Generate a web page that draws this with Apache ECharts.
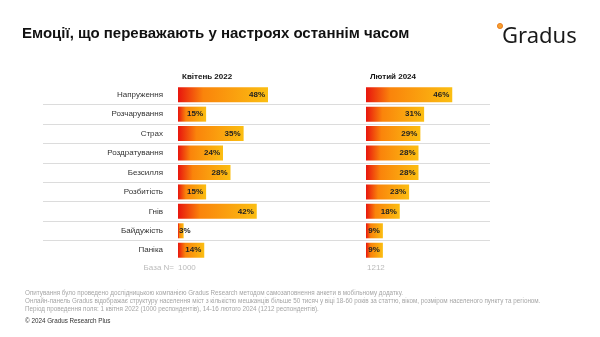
<!DOCTYPE html>
<html>
<head>
<meta charset="utf-8">
<script src="https://cdn.jsdelivr.net/npm/echarts@6/dist/echarts.min.js"></script>
<style>
  html, body { margin: 0; padding: 0; background: #fff; }
  #chart { width: 600px; height: 337px; }
</style>
</head>
<body>
<div id="chart"></div>
<script>
// Survey data: share of respondents naming each emotion
const categories = ['Напруження', 'Розчарування', 'Страх', 'Роздратування', 'Безсилля', 'Розбитість', 'Гнів', 'Байдужість', 'Паніка'];
const april2022 = [48, 15, 35, 24, 28, 15, 42, 3, 14];
const february2024 = [46, 31, 29, 28, 28, 23, 18, 9, 9];
const periods = ['Квітень 2022', 'Лютий 2024'];
const baseN = [1000, 1212];

const title = 'Емоції, що переважають у настроях останнім часом';
const notes = [
  'Опитування було проведено дослідницькою компанією Gradus Research методом самозаповнення анкети в мобільному додатку.',
  'Онлайн-панель Gradus відображає структуру населення міст з кількістю мешканців більше 50 тисяч у віці 18-60 років за статтю, віком, розміром населеного пункту та регіоном.',
  'Період проведення поля: 1 квітня 2022 (1000 респондентів), 14-16 лютого 2024 (1212 респондентів).'
];
const copyright = '© 2024 Gradus Research Plus';

// Layout
const FONT = '"Liberation Sans", Arial, sans-serif';
const TOP = 85, ROW = 19.44, HEIGHT = ROW * categories.length;
const BAR_LEFT = [178, 366];
const SCALE_MAX = 50, SCALE_W = 93.75;

const barGradient = new echarts.graphic.LinearGradient(0, 0, 1, 0, [
  { offset: 0, color: '#e8150e' },
  { offset: 0.28, color: '#fa840b' },
  { offset: 1, color: '#fbbe12' }
]);

function barData(values) {
  return values.map(v => ({
    value: v,
    label: v < 5 ? { position: 'insideLeft', distance: 1 } : undefined
  }));
}

const chart = echarts.init(document.getElementById('chart'), null, { renderer: 'canvas' });

const grids = [
  { left: 43, top: TOP, width: 447, height: HEIGHT },
  { left: BAR_LEFT[0], top: TOP, width: SCALE_W, height: HEIGHT },
  { left: BAR_LEFT[1], top: TOP, width: SCALE_W, height: HEIGHT }
];

const hiddenX = (i) => ({
  type: 'value', gridIndex: i, min: 0, max: SCALE_MAX,
  show: false, splitLine: { show: false }
});

const catY = (i, showLabels) => ({
  type: 'category', gridIndex: i, data: categories, inverse: true,
  axisLine: { show: false }, axisTick: { show: false }, splitLine: { show: false },
  axisLabel: {
    show: showLabels, margin: 15, fontFamily: FONT, fontSize: 8, color: '#333'
  }
});

const seriesFor = (values, i) => ({
  type: 'bar', xAxisIndex: i, yAxisIndex: i,
  data: barData(values),
  barWidth: 15,
  itemStyle: { color: barGradient },
  label: {
    show: true, position: 'insideRight', distance: 3,
    formatter: '{c}%', fontFamily: FONT, fontSize: 8, fontWeight: 'bold', color: '#222'
  },
  silent: true, animation: false
});

const txt = (text, x, y, opts) => ({
  type: 'text', x, y, silent: true,
  style: Object.assign({
    text, font: '8px ' + FONT, fill: '#333',
    textAlign: 'left', textVerticalAlign: 'middle', align: 'left', verticalAlign: 'middle'
  }, opts || {})
});

const graphics = [
  txt(title, 22, 34, { font: 'bold 15px ' + FONT, fill: '#111' }),
  txt(periods[0], BAR_LEFT[0] + 4, 77, { font: 'bold 8px ' + FONT, fill: '#111' }),
  txt(periods[1], BAR_LEFT[1] + 4, 77, { font: 'bold 8px ' + FONT, fill: '#111' }),
  txt('База N=', 174, 268, { fill: '#bbb', textAlign: 'right', align: 'right' }),
  txt(String(baseN[0]), BAR_LEFT[0], 268, { fill: '#bbb' }),
  txt(String(baseN[1]), BAR_LEFT[1] + 1, 268, { fill: '#bbb' }),
  txt(notes[0], 25, 293, { font: '6.3px ' + FONT, fill: '#a6a6a6' }),
  txt(notes[1], 25, 301, { font: '6.3px ' + FONT, fill: '#a6a6a6' }),
  txt(notes[2], 25, 309, { font: '6.3px ' + FONT, fill: '#a6a6a6' }),
  txt(copyright, 25, 321, { font: '6.3px ' + FONT, fill: '#333' }),
  // Gradus logo
  { type: 'circle', shape: { cx: 500, cy: 26, r: 2.6 }, style: { fill: '#f5a030', stroke: '#e8700f', lineWidth: 0.8 }, silent: true },
  txt('Gradus', 502, 37, { font: '22px "Noto Sans", ' + FONT, fill: '#1a1a1a' })
];

chart.setOption({
  animation: false,
  grid: grids,
  xAxis: [hiddenX(0), hiddenX(1), hiddenX(2)],
  yAxis: [
    {
      type: 'value', gridIndex: 0, min: 0, max: categories.length, interval: 1, inverse: true,
      axisLabel: { show: false }, axisLine: { show: false }, axisTick: { show: false },
      splitLine: { show: true, showMinLine: false, showMaxLine: false, lineStyle: { color: '#dcdcdc', width: 1 } }
    },
    catY(1, true),
    catY(2, false)
  ],
  series: [seriesFor(april2022, 1), seriesFor(february2024, 2)],
  graphic: graphics
});
</script>
</body>
</html>
